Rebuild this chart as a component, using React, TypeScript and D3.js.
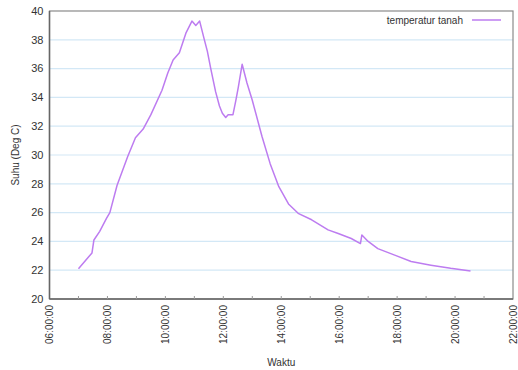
import React, { useRef, useEffect } from "react";
import * as d3 from "d3";

// readings (jam:menit) and soil temperature in deg C
const times = [
  "07:00", "07:28", "07:32", "07:44", "07:58", "08:05", "08:20", "08:42", "08:58", "09:14",
  "09:30", "09:53", "10:05", "10:16", "10:29", "10:43", "10:55", "11:03", "11:11", "11:20",
  "11:27", "11:34", "11:44", "11:52", "11:58", "12:05", "12:10", "12:20", "12:26", "12:31",
  "12:39", "12:49", "13:00", "13:20", "13:37", "13:55", "14:15", "14:35", "15:03", "15:37",
  "15:58", "16:25", "16:44", "16:47", "17:00", "17:20", "17:55", "18:29", "19:10", "19:51",
  "20:32",
];
const suhu = [
  22.1, 23.2, 24.1, 24.7, 25.6, 26.0, 27.9, 29.9, 31.2, 31.8,
  32.8, 34.5, 35.7, 36.6, 37.1, 38.5, 39.3, 39.0, 39.3, 38.1,
  37.2, 36.0, 34.4, 33.4, 32.9, 32.6, 32.8, 32.8, 33.8, 34.7,
  36.3, 35.0, 33.8, 31.3, 29.4, 27.8, 26.6, 25.95, 25.5, 24.8,
  24.55, 24.2, 23.85, 24.45, 24.0, 23.5, 23.05, 22.6, 22.35, 22.13,
  21.95,
];
const yTicks = [20, 22, 24, 26, 28, 30, 32, 34, 36, 38, 40];
const xTickHours = [6, 8, 10, 12, 14, 16, 18, 20, 22];

const W = 518, H = 370;
const m = { left: 49.5, right: 5, top: 11, bottom: 71 };
const font = "'Liberation Sans', Arial, sans-serif";

const hourOf = (s: string) => {
  const [h, mm] = s.split(":").map(Number);
  return h + mm / 60;
};

export default function App() {
  const svgRef = useRef<SVGSVGElement>(null);

  useEffect(() => {
    const svg = d3.select(svgRef.current);
    svg.selectAll("*").remove();

    const x = d3.scaleLinear().domain([6, 22]).range([m.left, W - m.right]);
    const y = d3.scaleLinear().domain([20, 40]).range([H - m.bottom, m.top]);

    // grid
    svg.append("g")
      .selectAll("line")
      .data(yTicks.slice(1, -1))
      .join("line")
      .attr("x1", x(6)).attr("x2", x(22))
      .attr("y1", d => y(d)).attr("y2", d => y(d))
      .attr("stroke", "#d3e8f6")
      .attr("stroke-width", 1.2);

    // frame
    svg.append("rect")
      .attr("x", x(6)).attr("y", y(40))
      .attr("width", x(22) - x(6)).attr("height", y(20) - y(40))
      .attr("fill", "none").attr("stroke", "#8a8a8a").attr("stroke-width", 1.2);
    svg.append("line")
      .attr("x1", x(6)).attr("x2", x(6)).attr("y1", y(40)).attr("y2", y(20))
      .attr("stroke", "#666").attr("stroke-width", 1.5);
    svg.append("line")
      .attr("x1", x(6)).attr("x2", x(22)).attr("y1", y(20)).attr("y2", y(20))
      .attr("stroke", "#666").attr("stroke-width", 1.5);

    // small inward ticks on the time axis, every hour
    svg.append("g")
      .selectAll("line")
      .data(d3.range(7, 22))
      .join("line")
      .attr("x1", d => x(d)).attr("x2", d => x(d))
      .attr("y1", y(20)).attr("y2", y(20) - 3)
      .attr("stroke", "#999");

    // y labels
    svg.append("g")
      .selectAll("text")
      .data(yTicks)
      .join("text")
      .attr("x", x(6) - 6)
      .attr("y", d => y(d))
      .attr("dy", "0.35em")
      .attr("text-anchor", "end")
      .attr("font-family", font)
      .attr("font-size", 11)
      .attr("fill", "#333")
      .text(d => d);

    // x labels, rotated
    svg.append("g")
      .selectAll("text")
      .data(xTickHours)
      .join("text")
      .attr("transform", d => `translate(${x(d)},${y(20) + 6}) rotate(-90)`)
      .attr("dy", "0.35em")
      .attr("text-anchor", "end")
      .attr("font-family", font)
      .attr("font-size", 10)
      .attr("fill", "#333")
      .text(d => `${String(d).padStart(2, "0")}:00:00`);

    // axis titles
    svg.append("text")
      .attr("transform", `translate(15,${(y(20) + y(40)) / 2}) rotate(-90)`)
      .attr("dy", "0.35em")
      .attr("text-anchor", "middle")
      .attr("font-family", font).attr("font-size", 10).attr("fill", "#333")
      .text("Suhu (Deg C)");
    svg.append("text")
      .attr("x", (x(6) + x(22)) / 2)
      .attr("y", 366)
      .attr("text-anchor", "middle")
      .attr("font-family", font).attr("font-size", 10).attr("fill", "#333")
      .text("Waktu");

    // series
    const line = d3.line<number>()
      .x((_, i) => x(hourOf(times[i])))
      .y(d => y(d));
    svg.append("path")
      .datum(suhu)
      .attr("d", line)
      .attr("fill", "none")
      .attr("stroke", "#bd7cf0")
      .attr("stroke-width", 1.5)
      .attr("stroke-linejoin", "round");

    // legend
    svg.append("text")
      .attr("x", 463).attr("y", 20)
      .attr("dy", "0.35em")
      .attr("text-anchor", "end")
      .attr("font-family", font).attr("font-size", 10).attr("fill", "#333")
      .text("temperatur tanah");
    svg.append("line")
      .attr("x1", 472).attr("x2", 501).attr("y1", 20).attr("y2", 20)
      .attr("stroke", "#bd7cf0").attr("stroke-width", 1.5);
  }, []);

  return (
    <svg ref={svgRef} width={W} height={H}
      style={{ position: "absolute", left: 0, top: 0, background: "#fff" }} />
  );
}
